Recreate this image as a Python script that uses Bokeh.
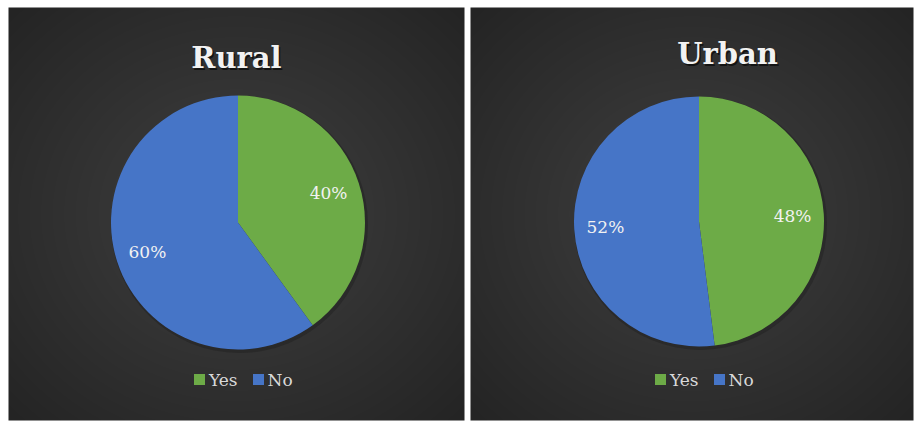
import numpy as np
from bokeh.plotting import figure
from bokeh.models import Range1d, ColumnDataSource
from bokeh.core.properties import value
from bokeh.embed import file_html
from bokeh.resources import INLINE

# ---------------- data ----------------
panels = ["Rural", "Urban"]
categories = ["Yes", "No"]
rural_pct = [40, 60]
urban_pct = [48, 52]
series = [rural_pct, urban_pct]
slice_colors = ["#6DAB47", "#4675C7"]

# ---------------- layout (pixels, image coords: y down) ----------------
W, H = 914, 421
panel_box = [(8, 7, 464, 420), (470, 7, 913, 420)]      # left, top, right, bottom
pie_center = [(237.5, 222), (698.5, 221)]
pie_r = [127, 125]
title_pos = [(236, 57), (727, 53)]                       # center x, baseline y
legend_y = 379

def Y(y):
    return H - y

p = figure(width=W, height=H, x_range=Range1d(0, W), y_range=Range1d(0, H),
           output_backend="svg", toolbar_location=None,
           x_axis_location=None, y_axis_location=None, min_border=0)
p.grid.visible = False
p.outline_line_color = None
p.background_fill_color = "white"
p.border_fill_color = "white"

# panel backgrounds: radial gradient
for (l, t, r, b) in panel_box:
    w, h = r - l, b - t
    xs = (np.arange(w) + 0.5 - w / 2) / (w / 2)
    ys = (np.arange(h) + 0.5 - h / 2) / (h / 2)
    X, Yg = np.meshgrid(xs, ys)
    d = np.clip(np.sqrt(X ** 2 + Yg ** 2) / np.sqrt(2), 0, 1)
    c = (64 - (64 - 36) * d).astype(np.uint8)
    img = np.empty((h, w), dtype=np.uint32)
    v = img.view(dtype=np.uint8).reshape((h, w, 4))
    v[:, :, 0] = c
    v[:, :, 1] = c
    v[:, :, 2] = c
    v[:, :, 3] = 255
    p.image_rgba(image=[img], x=l, y=Y(b), dw=w, dh=h)

# pie shadows
for (cx, cy), rr in zip(pie_center, pie_r):
    p.circle(x=cx + 1.5, y=Y(cy) - 2, radius=rr + 1.5, fill_color="#1a1a1a",
             fill_alpha=0.35, line_color=None)

# slices
xs_, ys_, st_, en_, col_, r_ = [], [], [], [], [], []
lx, ly, lt = [], [], []
for k, vals in enumerate(series):
    cx, cy = pie_center[k]
    rr = pie_r[k]
    tot = float(sum(vals))
    cum = 0.0
    for i, v in enumerate(vals):
        f0 = cum / tot
        cum += v
        f1 = cum / tot
        start = np.pi / 2 - 2 * np.pi * f1
        end = np.pi / 2 - 2 * np.pi * f0
        xs_.append(cx); ys_.append(Y(cy)); st_.append(start); en_.append(end)
        col_.append(slice_colors[i]); r_.append(rr)
        mid = (start + end) / 2
        lx.append(cx + 0.75 * rr * np.cos(mid))
        ly.append(Y(cy) + 0.75 * rr * np.sin(mid))
        lt.append(f"{round(100 * v / tot)}%")

src = ColumnDataSource(dict(x=xs_, y=ys_, start=st_, end=en_, color=col_, r=r_))
p.wedge(x="x", y="y", radius="r", start_angle="start", end_angle="end",
        fill_color="color", line_color=None, source=src)

lsrc = ColumnDataSource(dict(x=lx, y=ly, text=lt))
p.text(x="x", y="y", text="text", source=lsrc, text_align="center",
       text_baseline="middle", text_font=value("DejaVu Serif"),
       text_font_size="17px", text_color="#F2F2F2")

# titles with shadow
for k, name in enumerate(panels):
    tx, ty = title_pos[k]
    p.text(x=[tx + 1.5], y=[Y(ty) - 2], text=[name], text_align="center",
           text_baseline="alphabetic", text_font=value("DejaVu Serif"),
           text_font_style="bold", text_font_size="29px", text_color="#000000",
           text_alpha=0.6)
    p.text(x=[tx], y=[Y(ty)], text=[name], text_align="center",
           text_baseline="alphabetic", text_font=value("DejaVu Serif"),
           text_font_style="bold", text_font_size="29px", text_color="#F2F2F2")

# legends
sq_off = [-38.5, 20.5]
tx_off = [-29, 29.5]
for k in range(len(panels)):
    cx, _ = pie_center[k]
    p.scatter(x=[cx + o for o in sq_off], y=[Y(legend_y)] * 2, marker="square",
              size=11, fill_color=slice_colors, line_color=None)
    p.text(x=[cx + o for o in tx_off], y=[Y(legend_y)] * 2, text=categories,
           text_align="left", text_baseline="middle",
           text_font=value("DejaVu Serif"), text_font_size="17px",
           text_color="#D9D9D9")

open("out.html", "w").write(file_html(p, INLINE))
